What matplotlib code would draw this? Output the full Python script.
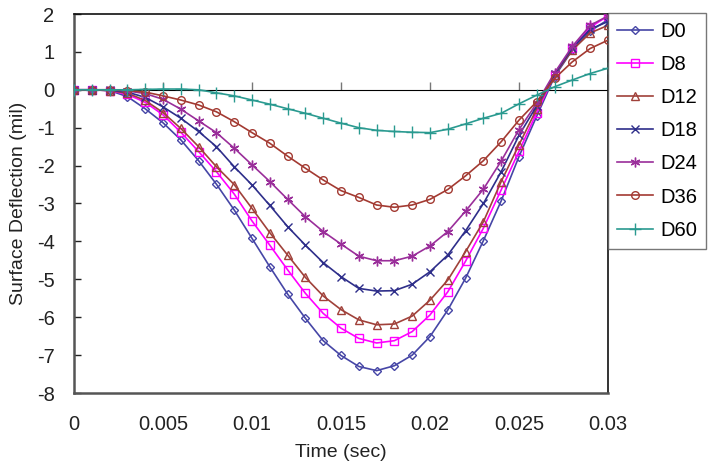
import matplotlib
matplotlib.use("Agg")
import matplotlib.pyplot as plt
import numpy as np

plt.rcParams['font.family'] = ['Liberation Sans', 'DejaVu Sans']
plt.rcParams['axes.unicode_minus'] = False

time_ms = np.arange(0, 31)  # in units of 0.001 sec
time = time_ms * 0.001

D0 = [0, 0, -0.02, -0.18, -0.5, -0.87, -1.32, -1.87, -2.49, -3.17, -3.92, -4.67, -5.39, -6.03, -6.62,
      -7.01, -7.3, -7.41, -7.28, -7.0, -6.51, -5.81, -4.97, -3.98, -2.93, -1.76, -0.69, 0.35, 1.05, 1.55, 1.85]
D8 = [0, 0, -0.02, -0.12, -0.33, -0.66, -1.12, -1.63, -2.16, -2.75, -3.46, -4.1, -4.75, -5.37, -5.9,
      -6.29, -6.56, -6.68, -6.62, -6.38, -5.94, -5.33, -4.52, -3.65, -2.64, -1.62, -0.6, 0.4, 1.1, 1.65, 1.95]
D12 = [0, 0, -0.02, -0.09, -0.28, -0.6, -1.02, -1.5, -2.03, -2.5, -3.13, -3.77, -4.36, -4.95, -5.44,
       -5.8, -6.07, -6.2, -6.18, -5.97, -5.55, -5.02, -4.27, -3.48, -2.42, -1.45, -0.5, 0.4, 1.05, 1.5, 1.7]
D18 = [0, 0, -0.01, -0.06, -0.2, -0.45, -0.75, -1.1, -1.5, -2.03, -2.51, -3.05, -3.61, -4.1, -4.56,
       -4.93, -5.24, -5.31, -5.3, -5.13, -4.8, -4.36, -3.72, -3.0, -2.16, -1.2, -0.42, 0.42, 1.1, 1.6, 1.8]
D24 = [0, 0, 0, -0.03, -0.1, -0.25, -0.51, -0.82, -1.13, -1.54, -1.98, -2.42, -2.89, -3.35, -3.74,
       -4.07, -4.39, -4.51, -4.51, -4.39, -4.12, -3.74, -3.2, -2.62, -1.88, -1.05, -0.35, 0.45, 1.15, 1.7, 1.95]
D36 = [0, 0, 0, -0.02, -0.06, -0.16, -0.27, -0.4, -0.58, -0.84, -1.13, -1.41, -1.75, -2.07, -2.38,
       -2.66, -2.84, -3.04, -3.1, -3.04, -2.89, -2.63, -2.27, -1.87, -1.37, -0.8, -0.31, 0.3, 0.74, 1.09, 1.31]
D60 = [0, 0, 0, 0, 0.01, 0.02, 0.02, 0.0, -0.08, -0.16, -0.27, -0.38, -0.5, -0.62, -0.75,
       -0.88, -1.0, -1.07, -1.1, -1.12, -1.13, -1.04, -0.9, -0.75, -0.62, -0.37, -0.14, 0.08, 0.26, 0.43, 0.57]

series_names = ['D0', 'D8', 'D12', 'D18', 'D24', 'D36', 'D60']
series_values = [D0, D8, D12, D18, D24, D36, D60]
colors = ['#4646a6', '#ff00ff', '#a0413a', '#2e2e8a', '#9a2e9a', '#a33a32', '#2a9a90']
markers = ['D', 's', '^', 'x', (6, 2, 0), 'o', '+']
msizes = [4.5, 5.5, 6, 6, 7, 5.5, 8]

xticks = [0, 0.005, 0.01, 0.015, 0.02, 0.025, 0.03]
xtick_labels = ['0', '0.005', '0.01', '0.015', '0.02', '0.025', '0.03']
yticks = list(range(-8, 3))

fig = plt.figure(figsize=(7.09, 4.65), dpi=100)
ax = fig.add_axes([74/709, 1-393/465, (608-74)/709, (393-14)/465])

for name, vals, c, m, ms in zip(series_names, series_values, colors, markers, msizes):
    ax.plot(time, vals, color=c, lw=1.2, marker=m, ms=ms, mfc='none', mec=c, mew=1.0,
            label=name, zorder=3)

ax.set_xlim(0, 0.03)
ax.set_ylim(-8, 2)
ax.set_xticks(xticks)
ax.set_xticklabels(xtick_labels)
ax.set_yticks(yticks)

ax.tick_params(axis='x', length=0, pad=16, labelsize=14.5, colors='#222222')
ax.tick_params(axis='y', direction='in', length=5, width=1, pad=14, labelsize=14.5,
               colors='#222222')

for s in ['top', 'right']:
    ax.spines[s].set_color('#111111')
    ax.spines[s].set_linewidth(1.2)
for s in ['left', 'bottom']:
    ax.spines[s].set_color('#555555')
    ax.spines[s].set_linewidth(1.8)

# zero line acting as category axis with downward ticks
sec = ax.secondary_xaxis(0.8)
sec.set_xticks(xticks)
sec.set_xticklabels([])
sec.tick_params(axis='x', direction='out', length=6, width=1, colors='#777777')
sec.spines['bottom'].set_color('#999999')
sec.spines['bottom'].set_linewidth(1.3)

ax.set_xlabel('Time (sec)', fontsize=14, color='#222222', labelpad=7)
ax.set_ylabel('Surface Deflection (mil)', fontsize=14, color='#222222', labelpad=7)

leg = fig.legend(loc='upper left', bbox_to_anchor=(608/709, 1-13/465), fontsize=14.5,
                 frameon=True, fancybox=False, edgecolor='#555555', borderpad=0.45,
                 handlelength=1.8, handletextpad=0.35, labelspacing=0.7, borderaxespad=0)
leg.get_frame().set_linewidth(1.0)

fig.savefig('out.png', dpi=100)
